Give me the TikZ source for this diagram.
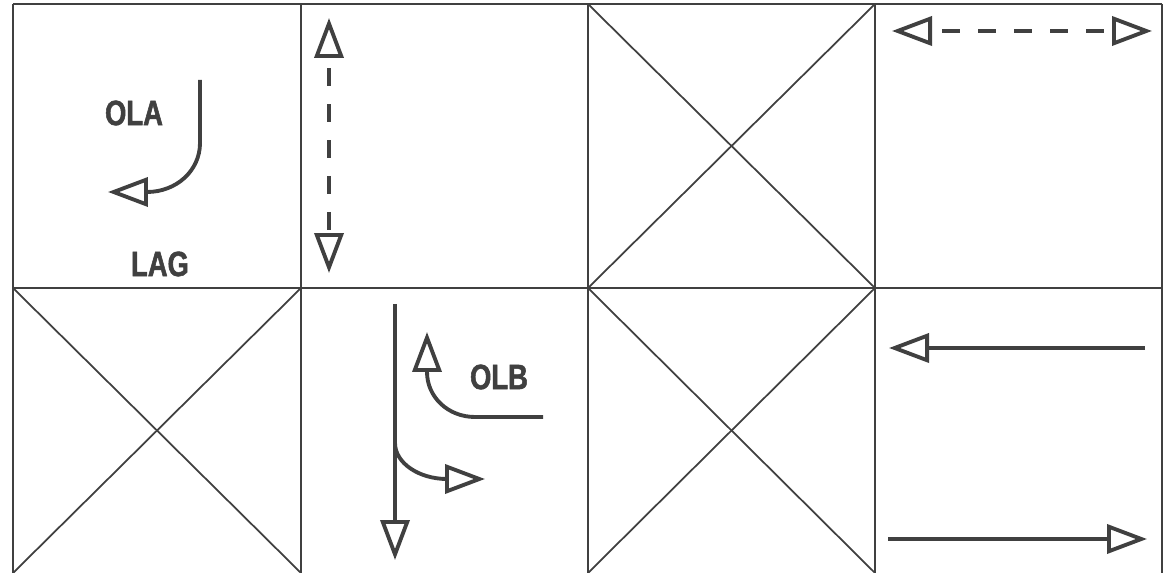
\documentclass[tikz,border=0pt]{standalone}
\usepackage{fontspec}
\usetikzlibrary{arrows.meta}
\newfontfamily\signfont[FakeStretch=0.78,FakeBold=1.5]{Liberation Sans}
\definecolor{ink}{gray}{0.25}
\tikzset{
	grid/.style={ink,line width=1pt},
	move/.style={ink,line width=2.2pt},
	tip/.style={-{Triangle[open,length=0.8cm,width=0.58cm]}},
	tips/.style={{Triangle[open,length=0.8cm,width=0.58cm]}-{Triangle[open,length=0.8cm,width=0.58cm]}},
	lbl/.style={ink,inner sep=0pt,font=\signfont\bfseries\fontsize{20}{20}\selectfont},
	dashes/.style={dash pattern=on 0.36cm off 0.36cm,dash phase=0.5cm}
}
\begin{document}
\begin{tikzpicture}[x=0.02cm,y=-0.02cm]
		\useasboundingbox (0,0) rectangle (1165,573);
		
		\draw[grid] (13,4) -- (1162,4);
		\draw[grid] (13,288) -- (1162,288);
		\draw[grid] (13,4) -- (13,573);
		\draw[grid] (301,4) -- (301,573);
		\draw[grid] (588,4) -- (588,573);
		\draw[grid] (875,4) -- (875,573);
		\draw[grid] (1162,4) -- (1162,573);
		
		\draw[grid] (588,4) -- (875,288);
		\draw[grid] (875,4) -- (588,288);
		\draw[grid] (13,288) -- (301,573);
		\draw[grid] (301,288) -- (13,573);
		\draw[grid] (588,288) -- (875,573);
		\draw[grid] (875,288) -- (588,573);
		
		\node[lbl] (ola) at (134,113) {OLA};
		\node[lbl] (lag) at (160,264) {LAG};
		\node[lbl] (olb) at (499,377) {OLB};
		
		\coordinate (olafrom) at (200,80);
		\coordinate (olato) at (108,192);
		\draw[move,tip] (olafrom) -- (200,143) .. controls (200,171) and (176,192) .. (147,192) -- (olato);
		
		\coordinate (vup) at (329,18);
		\coordinate (vdown) at (329,273);
		\draw[move,tips,dashes] (vup) -- (vdown);
		
		\coordinate (hleft) at (892,31);
		\coordinate (hright) at (1152,31);
		\draw[move,tips,dashes] (hleft) -- (hright);
		
		\coordinate (thrufrom) at (395,304);
		\coordinate (thruto) at (395,560);
		\draw[move,tip] (thrufrom) -- (thruto);
		\coordinate (rightto) at (485,479);
		\draw[move,tip] (395,443) .. controls (395,463) and (419,479) .. (447,479) -- (rightto);
		
		\coordinate (olbfrom) at (543,417);
		\coordinate (olbto) at (427,332);
		\draw[move,tip] (olbfrom) -- (475,417) .. controls (448,417) and (427,397) .. (427,372) -- (olbto);
		
		\coordinate (westfrom) at (1145,348);
		\coordinate (westto) at (889,348);
		\draw[move,tip] (westfrom) -- (westto);
		\coordinate (eastfrom) at (888,539);
		\coordinate (eastto) at (1147,539);
		\draw[move,tip] (eastfrom) -- (eastto);
	\end{tikzpicture}
\end{document}
